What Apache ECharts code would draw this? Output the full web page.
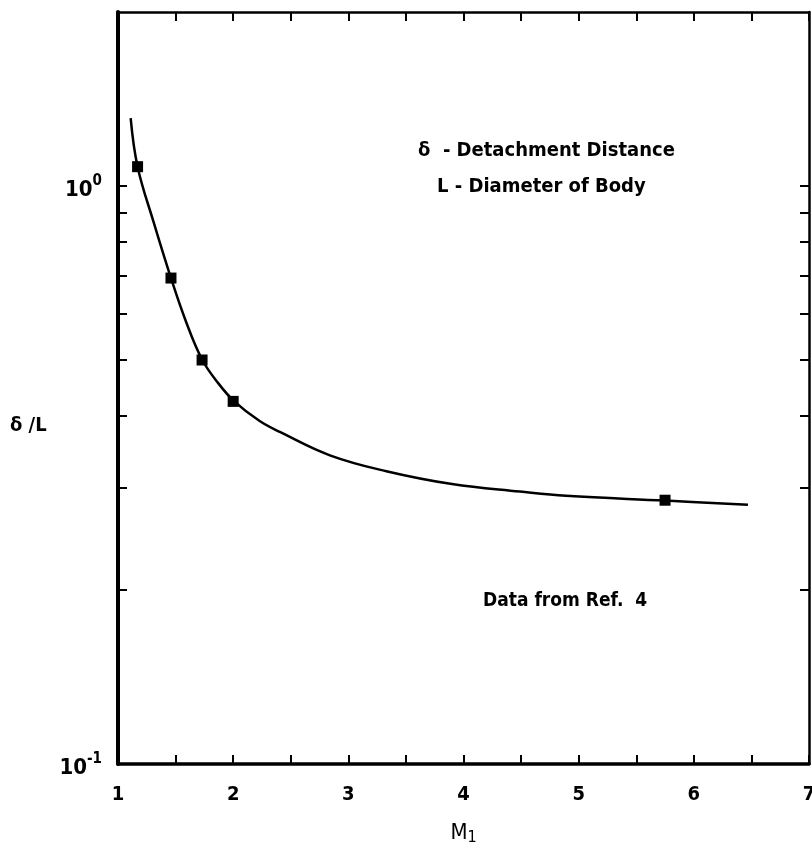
<!DOCTYPE html>
<html>
<head>
<meta charset="utf-8">
<script src="https://cdn.jsdelivr.net/npm/echarts@6/dist/echarts.min.js"></script>
<style>
  html, body { margin: 0; padding: 0; background: #fff; }
  #chart { width: 812px; height: 848px; }
</style>
</head>
<body>
<div id="chart"></div>
<script>
// faired curve through the data
var curveM = [1.11, 1.17, 1.31, 1.46, 1.59, 1.73, 1.87, 2.01, 2.23, 2.41, 2.84, 3.33, 3.9, 4.49, 4.89, 5.75, 6.47];
var curveD = [1.31, 1.08, 0.865, 0.693, 0.583, 0.501, 0.456, 0.424, 0.392, 0.375, 0.342, 0.321, 0.305, 0.296, 0.291, 0.2856, 0.281];
// measured points (Ref. 4)
var pointM = [1.17, 1.46, 1.73, 2.0, 5.75];
var pointD = [1.08, 0.693, 0.50, 0.424, 0.286];
// axis ticks
var yTicks = [0.2, 0.3, 0.4, 0.5, 0.6, 0.7, 0.8, 0.9, 1];
var yLabels = [0.1, 1];

var font = '"Liberation Sans Narrow", "DejaVu Sans Condensed", sans-serif';

function pairs(xs, ys) {
    return xs.map(function (x, i) { return [x, ys[i]]; });
}

var chart = echarts.init(document.getElementById('chart'));

var xBase = {
    type: 'value',
    min: 1,
    max: 7,
    interval: 0.5,
    splitLine: { show: false },
    axisTick: { inside: true, length: 9, lineStyle: { color: '#000', width: 2 } }
};

var yBase = {
    type: 'log',
    logBase: 10,
    min: 0.1,
    max: 2,
    splitLine: { show: false },
    axisTick: { inside: true, length: 9, customValues: yTicks, lineStyle: { color: '#000', width: 2 } }
};

var option = {
    animation: false,
    backgroundColor: '#fff',
    grid: { left: 118, right: 3, top: 12, bottom: 84, containLabel: false, outerBoundsMode: 'none' },
    xAxis: [
        Object.assign({}, xBase, {
            position: 'bottom',
            axisLine: { lineStyle: { color: '#000', width: 3.5 } },
            axisLabel: {
                margin: 21,
                color: '#000',
                fontFamily: font,
                fontWeight: 'bold',
                fontSize: 20,
                formatter: function (v) { return Number.isInteger(v) ? String(v) : ''; }
            },
            name: '{m|M}{s|1}',
            nameLocation: 'middle',
            nameGap: 56,
            nameTextStyle: {
                rich: {
                    m: { fontFamily: font, fontSize: 22, color: '#000' },
                    s: { fontFamily: font, fontSize: 16, color: '#000', padding: [10, 0, 0, 0] }
                }
            }
        }),
        Object.assign({}, xBase, {
            position: 'top',
            axisLine: { lineStyle: { color: '#000', width: 2.5 } },
            axisLabel: { show: false }
        })
    ],
    yAxis: [
        Object.assign({}, yBase, {
            position: 'left',
            axisLine: { lineStyle: { color: '#000', width: 4 } },
            axisLabel: {
                customValues: yLabels,
                margin: 16,
                formatter: function (v) {
                    return v >= 1 ? '{b|10}{s|0}' : '{b|10}{s|-1}';
                },
                rich: {
                    b: { fontFamily: font, fontWeight: 'bold', fontSize: 22, color: '#000', padding: [8, 0, 0, 0] },
                    s: { fontFamily: font, fontWeight: 'bold', fontSize: 15, color: '#000', padding: [0, 0, 10, 0] }
                }
            }
        }),
        Object.assign({}, yBase, {
            position: 'right',
            axisLine: { lineStyle: { color: '#000', width: 2.5 } },
            axisLabel: { show: false }
        })
    ],
    graphic: [
        { type: 'text', left: 10, top: 416, style: { text: 'δ /L', font: 'bold 20px ' + font, fill: '#000' } },
        { type: 'text', left: 418, top: 141, style: { text: 'δ  - Detachment Distance', font: 'bold 20px ' + font, fill: '#000' } },
        { type: 'text', left: 437, top: 177, style: { text: 'L - Diameter of Body', font: 'bold 20px ' + font, fill: '#000' } },
        { type: 'text', left: 483, top: 592, style: { text: 'Data from Ref.  4', font: 'bold 19px ' + font, fill: '#000' } }
    ],
    series: [
        {
            type: 'line',
            data: pairs(curveM, curveD),
            smooth: 0.4,
            showSymbol: false,
            symbol: 'none',
            lineStyle: { color: '#000', width: 2.5 }
        },
        {
            type: 'scatter',
            data: pairs(pointM, pointD),
            symbol: 'rect',
            symbolSize: 11,
            itemStyle: { color: '#000', opacity: 1 },
            z: 3
        }
    ]
};

chart.setOption(option);
</script>
</body>
</html>
